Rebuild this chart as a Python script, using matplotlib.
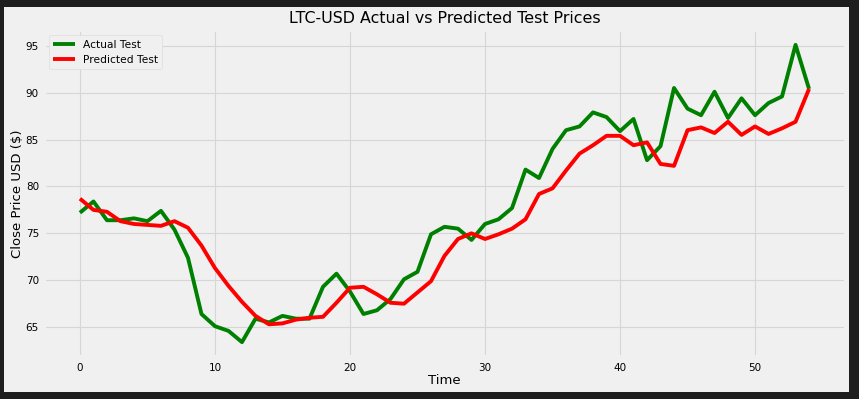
import matplotlib
matplotlib.use("Agg")
import matplotlib.pyplot as plt
from matplotlib.patches import Rectangle

# valeurs
time_idx = list(range(55))
actual_test = [77.2, 78.4, 76.4, 76.4, 76.6, 76.3, 77.4, 75.4, 72.4, 66.4,
               65.1, 64.6, 63.4, 65.9, 65.5, 66.2, 65.9, 65.9, 69.3, 70.7,
               68.8, 66.4, 66.8, 68.0, 70.1, 70.9, 74.9, 75.7, 75.5, 74.3,
               76.0, 76.5, 77.7, 81.8, 80.9, 84.0, 86.0, 86.4, 87.9, 87.4,
               85.9, 87.2, 82.8, 84.3, 90.5, 88.3, 87.6, 90.1, 87.3, 89.4,
               87.6, 88.9, 89.6, 95.1, 90.4]
predicted_test = [78.7, 77.5, 77.3, 76.3, 76.0, 75.9, 75.8, 76.3, 75.6, 73.7,
                  71.3, 69.4, 67.7, 66.2, 65.3, 65.4, 65.8, 66.0, 66.1, 67.6,
                  69.2, 69.3, 68.5, 67.6, 67.5, 68.7, 69.9, 72.6, 74.4, 75.0,
                  74.4, 74.9, 75.5, 76.5, 79.2, 79.8, 81.7, 83.5, 84.4, 85.4,
                  85.4, 84.4, 84.7, 82.4, 82.2, 86.0, 86.3, 85.7, 86.9, 85.5,
                  86.4, 85.6, 86.2, 86.9, 90.4]

plt.style.use("fivethirtyeight")

W, H = 859, 399
fig = plt.figure(figsize=(W / 100, H / 100), dpi=100, facecolor="#1e1e1e")
# panneau clair (la capture a un cadre sombre)
fig.patches.append(Rectangle((4 / W, 1 - 392 / H), 845 / W, 385 / H,
                             transform=fig.transFigure, facecolor="#f0f0f0",
                             edgecolor="none", zorder=-10))

ax = fig.add_axes([43.5 / W, 1 - 357 / H, 802 / W, 327 / H])
ax.set_zorder(1)
ax.set_facecolor("#f0f0f0")

ax.plot(time_idx, actual_test, color="green", linewidth=2.8, label="Actual Test")
ax.plot(time_idx, predicted_test, color="red", linewidth=2.8, label="Predicted Test")

ax.set_title("LTC-USD Actual vs Predicted Test Prices", fontsize=11.4, pad=5)
ax.set_xlabel("Time", fontsize=9.5, labelpad=1)
ax.set_ylabel("Close Price USD ($)", fontsize=9.5, labelpad=1)
ax.tick_params(labelsize=7.5)
ax.tick_params(axis="y", pad=3.3)
ax.tick_params(axis="x", pad=4)
ax.grid(True, color="#d6d6d6", linewidth=0.8)
ax.legend(loc="upper left", fontsize=7.7, frameon=True, facecolor="#f0f0f0",
          edgecolor="#dddddd", framealpha=1)

fig.savefig("out.png", dpi=100, facecolor=fig.get_facecolor())
